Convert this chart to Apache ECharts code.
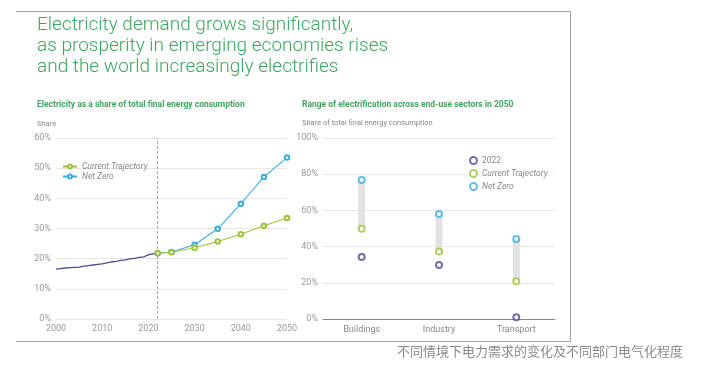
<!DOCTYPE html>
<html><head><meta charset="utf-8">
<script src="https://cdn.jsdelivr.net/npm/echarts@6/dist/echarts.min.js"></script>
<style>html,body{margin:0;padding:0;background:#fff}#c{width:712px;height:369px}</style>
</head><body><div id="c"></div>
<script>
// Left chart data
const histYears = [2000,2001,2002,2003,2004,2005,2006,2007,2008,2009,2010,2011,2012,2013,2014,2015,2016,2017,2018,2019,2020,2021,2022];
const histValues = [16.5,16.7,16.9,17.0,17.1,17.2,17.5,17.7,17.9,18.1,18.3,18.6,18.9,19.1,19.4,19.6,19.9,20.1,20.4,20.6,21.3,21.6,21.9];
const projYears = [2022,2025,2030,2035,2040,2045,2050];
const currentTrajectory = [21.8,22.1,23.6,25.7,28.1,30.9,33.5];
const netZero = [21.8,22.2,24.6,29.9,38.2,47.1,53.5];
const leftYTicks = [0,10,20,30,40,50,60];
// Right chart data
const sectors = ['Buildings','Industry','Transport'];
const sector2022 = [34.3,29.8,0.9];
const sectorCT = [49.9,37.3,20.8];
const sectorNZ = [76.8,58.0,44.2];

const cGreen = '#9cc23c', cBlue = '#39ade0', cHist = '#4d4a93', cTitle = '#3aa95c';
const font = 'Roboto';
const chart = echarts.init(document.getElementById('c'));
chart.setOption({
  animation: false,
  textStyle: {fontFamily: font},
  graphic: [
    {type:'polyline', shape:{points:[[16,11.5],[570.5,11.5],[570.5,341.5],[16,341.5]]}, style:{stroke:'#a0a0a0', fill:null, lineWidth:1}},
    {type:'text', left:37, top:15, style:{text:'Electricity demand grows significantly,\nas prosperity in emerging economies rises\nand the world increasingly electrifies', fill:cTitle, font:'300 19px Roboto', lineHeight:21}},
    {type:'text', left:37, top:100, style:{text:'Electricity as a share of total final energy consumption', fill:cTitle, font:'bold 8.5px Roboto'}},
    {type:'text', left:37, top:120, style:{text:'Share', fill:'#888', font:'7.5px Roboto'}},
    {type:'text', left:302, top:100, style:{text:'Range of electrification across end-use sectors in 2050', fill:cTitle, font:'bold 8.5px Roboto'}},
    {type:'text', left:302, top:119, style:{text:'Share of total final energy consumption', fill:'#888', font:'7.5px Roboto'}},
    {type:'text', left:397, top:345, style:{text:'不同情境下电力需求的变化及不同部门电气化程度', fill:'#8a8a8a', font:'13px "Noto Sans CJK SC"'}}
  ],
  legend: [
    {data:['Current Trajectory','Net Zero'], orient:'vertical', left:57, top:157, itemWidth:14, itemHeight:5, itemGap:1,
     textStyle:{fontSize:8.5, color:'#888', fontStyle:'italic'}},
    {data:[{name:'2022', textStyle:{fontStyle:'normal'}},{name:'Current Trajectory '},{name:'Net Zero '}], orient:'vertical', left:467, top:154, itemWidth:7, itemHeight:7, itemGap:4,
     backgroundColor:'#fff', padding:[2,4,2,2],
     textStyle:{fontSize:8.5, color:'#888', fontStyle:'italic'}}
  ],
  grid: [
    {left:56, right:425, top:138, bottom:50},
    {left:323, right:157, top:138, bottom:50}
  ],
  xAxis: [
    {type:'value', gridIndex:0, min:2000, max:2050, interval:10,
     axisLine:{show:false}, axisTick:{show:false}, splitLine:{show:false},
     axisLabel:{fontSize:9, color:'#999', margin:5, formatter:v=>String(v)}},
    {type:'category', gridIndex:1, data:sectors,
     axisLine:{lineStyle:{color:'#888'}}, axisTick:{show:false},
     axisLabel:{fontSize:9, color:'#888', margin:6}}
  ],
  yAxis: [
    {type:'value', gridIndex:0, min:0, max:60, interval:10,
     axisLine:{show:false}, axisTick:{show:false},
     splitLine:{lineStyle:{color:'#e6e6e6'}},
     axisLabel:{fontSize:9, color:'#999', margin:5, formatter:'{value}%'}},
    {type:'value', gridIndex:1, min:0, max:100, interval:20,
     axisLine:{show:false}, axisTick:{show:false},
     splitLine:{lineStyle:{color:'#e6e6e6'}},
     axisLabel:{fontSize:9, color:'#999', margin:5, formatter:'{value}%'}}
  ],
  series: [
    {type:'line', name:'hist', xAxisIndex:0, yAxisIndex:0, data:histYears.map((y,i)=>[y,histValues[i]]),
     showSymbol:false, lineStyle:{color:cHist, width:1.3}, itemStyle:{color:cHist}, z:3,
     markLine:{silent:true, symbol:'none', label:{show:false}, lineStyle:{color:'#aaa', type:[3,2], width:1},
       data:[{xAxis:2022}]}},
    {type:'line', name:'Net Zero', xAxisIndex:0, yAxisIndex:0, data:projYears.map((y,i)=>[y,netZero[i]]),
     symbol:'emptyCircle', symbolSize:4.5, lineStyle:{color:cBlue, width:1.1}, itemStyle:{color:cBlue, borderWidth:0.9}, z:4},
    {type:'line', name:'Current Trajectory', xAxisIndex:0, yAxisIndex:0, data:projYears.map((y,i)=>[y,currentTrajectory[i]]),
     symbol:'emptyCircle', symbolSize:4.5, lineStyle:{color:cGreen, width:1.1}, itemStyle:{color:cGreen, borderWidth:0.9}, z:5},
    {type:'bar', name:'base', xAxisIndex:1, yAxisIndex:1, stack:'r', data:sectorCT, barWidth:7,
     itemStyle:{color:'rgba(0,0,0,0)'}, silent:true},
    {type:'bar', name:'range', xAxisIndex:1, yAxisIndex:1, stack:'r', data:sectorNZ.map((v,i)=>v-sectorCT[i]), barWidth:7,
     itemStyle:{color:'#e2e2e2'}, silent:true},
    {type:'scatter', name:'2022', xAxisIndex:1, yAxisIndex:1, data:sector2022, symbol:'emptyCircle', symbolSize:6,
     itemStyle:{color:cHist, borderWidth:1}, z:5},
    {type:'scatter', name:'Current Trajectory ', xAxisIndex:1, yAxisIndex:1, data:sectorCT, symbol:'emptyCircle', symbolSize:6,
     itemStyle:{color:cGreen, borderWidth:1}, z:5},
    {type:'scatter', name:'Net Zero ', xAxisIndex:1, yAxisIndex:1, data:sectorNZ, symbol:'emptyCircle', symbolSize:6,
     itemStyle:{color:cBlue, borderWidth:1}, z:5}
  ]
});
</script></body></html>
